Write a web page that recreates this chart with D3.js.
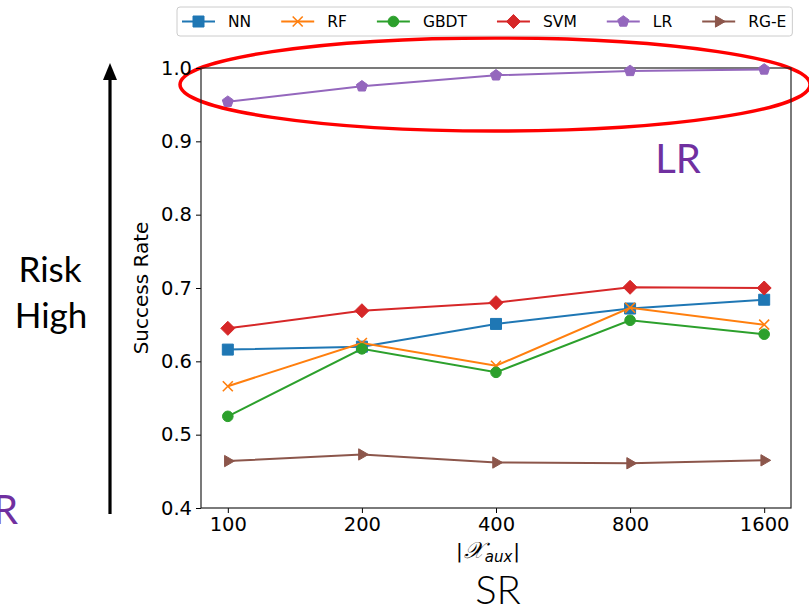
<!DOCTYPE html>
<html>
<head>
<meta charset="utf-8">
<script src="https://cdn.jsdelivr.net/npm/d3@7"></script>
<style>
  body { margin: 0; background: #fff; }
  svg { display: block; }
</style>
</head>
<body>
<div id="chart"></div>
<script>
// data
var sizes = ["100", "200", "400", "800", "1600"];
var seriesNames = ["NN", "RF", "GBDT", "SVM", "LR", "RG-E"];
var nnValues   = [0.616, 0.620, 0.651, 0.672, 0.684];
var rfValues   = [0.566, 0.625, 0.594, 0.673, 0.650];
var gbdtValues = [0.525, 0.617, 0.585, 0.656, 0.637];
var svmValues  = [0.645, 0.669, 0.680, 0.701, 0.700];
var lrValues   = [0.954, 0.975, 0.990, 0.996, 0.998];
var rgeValues  = [0.464, 0.473, 0.462, 0.461, 0.465];
var yTicks = [0.4, 0.5, 0.6, 0.7, 0.8, 0.9, 1.0];

var series = [
    { name: "NN",   values: nnValues,   color: "#1f77b4", marker: "square" },
    { name: "RF",   values: rfValues,   color: "#ff7f0e", marker: "x" },
    { name: "GBDT", values: gbdtValues, color: "#2ca02c", marker: "circle" },
    { name: "SVM",  values: svmValues,  color: "#d62728", marker: "diamond" },
    { name: "LR",   values: lrValues,   color: "#9467bd", marker: "pentagon" },
    { name: "RG-E", values: rgeValues,  color: "#8c564b", marker: "triangle" }
];

var W = 809, H = 612;
var margin = { top: 68, left: 201, width: 590, height: 440 };

var svg = d3.select("#chart").append("svg")
    .attr("width", W)
    .attr("height", H);

var x = d3.scalePoint()
    .domain(sizes)
    .range([margin.left, margin.left + margin.width])
    .padding(0.2);

var y = d3.scaleLinear()
    .domain([0.4, 1.0])
    .range([margin.top + margin.height, margin.top]);

// marker shapes, centred on 0,0
function markerPath(type) {
    var p = d3.path();
    if (type === "square") {
        var s = 5.5;
        p.rect(-s, -s, 2 * s, 2 * s);
    } else if (type === "diamond") {
        var d = 7;
        p.moveTo(0, -d); p.lineTo(d, 0); p.lineTo(0, d); p.lineTo(-d, 0); p.closePath();
    } else if (type === "circle") {
        p.arc(0, 0, 5.3, 0, 2 * Math.PI);
    } else if (type === "pentagon") {
        var r = 5.8;
        for (var i = 0; i < 5; i++) {
            var a = -Math.PI / 2 + i * 2 * Math.PI / 5;
            if (i === 0) p.moveTo(r * Math.cos(a), r * Math.sin(a));
            else p.lineTo(r * Math.cos(a), r * Math.sin(a));
        }
        p.closePath();
    } else if (type === "triangle") {
        var t = 6.5;
        p.moveTo(t, 0); p.lineTo(-t / 2, -t * 0.87); p.lineTo(-t / 2, t * 0.87); p.closePath();
    } else if (type === "x") {
        var k = 5;
        p.moveTo(-k, -k); p.lineTo(k, k); p.moveTo(-k, k); p.lineTo(k, -k);
    }
    return p.toString();
}

function drawMarker(g, type, color) {
    var m = g.append("path").attr("d", markerPath(type));
    if (type === "x") {
        m.attr("fill", "none").attr("stroke", color).attr("stroke-width", 1.6);
    } else {
        m.attr("fill", color).attr("stroke", color).attr("stroke-width", 1);
    }
    return m;
}

// red ellipse highlight
svg.append("ellipse")
    .attr("cx", 495).attr("cy", 84.5)
    .attr("rx", 315).attr("ry", 46.5)
    .attr("fill", "none")
    .attr("stroke", "#ff0000")
    .attr("stroke-width", 3.5);

// axes
var yAxis = svg.append("g")
    .attr("transform", "translate(" + margin.left + ",0)")
    .call(d3.axisLeft(y).tickValues(yTicks).tickFormat(d3.format(".1f")).tickSizeOuter(0).tickSize(5).tickPadding(4));
var xAxis = svg.append("g")
    .attr("transform", "translate(0," + (margin.top + margin.height) + ")")
    .call(d3.axisBottom(x).tickSizeOuter(0).tickSize(5).tickPadding(4));

[xAxis, yAxis].forEach(function (a) {
    a.select(".domain").remove();
    a.selectAll("line").attr("stroke", "#000").attr("stroke-width", 1);
    a.selectAll("text")
        .attr("fill", "#000")
        .style("font-family", "DejaVu Sans")
        .style("font-size", "19.5px");
});

// frame
svg.append("rect")
    .attr("x", margin.left).attr("y", margin.top)
    .attr("width", margin.width).attr("height", margin.height)
    .attr("fill", "none")
    .attr("stroke", "#222")
    .attr("stroke-width", 1.2);

// lines + markers
var line = d3.line()
    .x(function (d, i) { return x(sizes[i]); })
    .y(function (d) { return y(d); });

series.forEach(function (s) {
    svg.append("path")
        .datum(s.values)
        .attr("fill", "none")
        .attr("stroke", s.color)
        .attr("stroke-width", 2)
        .attr("d", line);
    s.values.forEach(function (v, i) {
        var g = svg.append("g")
            .attr("transform", "translate(" + x(sizes[i]) + "," + y(v) + ")");
        drawMarker(g, s.marker, s.color);
    });
});

// axis labels
svg.append("text")
    .attr("transform", "translate(148,288) rotate(-90)")
    .attr("text-anchor", "middle")
    .style("font-family", "DejaVu Sans")
    .style("font-size", "20px")
    .text("Success Rate");

var xl = svg.append("text")
    .attr("x", 488).attr("y", 558)
    .attr("text-anchor", "middle")
    .style("font-family", "DejaVu Sans")
    .style("font-size", "20px");
xl.append("tspan").text("|");
xl.append("tspan").attr("dx", 1).style("font-family", "DejaVu Serif").style("font-style", "italic").style("font-size", "23px").text("\uD835\uDCB3");
xl.append("tspan").attr("dy", 4).attr("dx", 1).style("font-style", "italic").style("font-size", "15px").text("aux");
xl.append("tspan").attr("dy", -4).attr("dx", 1).text("|");

// legend
var legend = svg.append("g");
var legendBox = legend.append("rect")
    .attr("x", 177).attr("y", 7)
    .attr("height", 29)
    .attr("rx", 3)
    .attr("fill", "#fff")
    .attr("fill-opacity", 0.8)
    .attr("stroke", "#cccccc")
    .attr("stroke-width", 1);

var lx = 182, ly = 21.5;
series.forEach(function (s) {
    var g = legend.append("g").attr("transform", "translate(" + lx + "," + ly + ")");
    g.append("line")
        .attr("x1", 0).attr("x2", 33)
        .attr("stroke", s.color).attr("stroke-width", 2);
    var mg = g.append("g").attr("transform", "translate(16.5,0)");
    drawMarker(mg, s.marker, s.color);
    var t = g.append("text")
        .attr("x", 46).attr("y", 5.5)
        .style("font-family", "DejaVu Sans")
        .style("font-size", "15.5px")
        .text(s.name);
    lx += 46 + t.node().getComputedTextLength() + 30;
});
legendBox.attr("width", lx - 30 + 6 - 177);

// annotations
var arrowX = 110;
svg.append("line")
    .attr("x1", arrowX).attr("x2", arrowX)
    .attr("y1", 514).attr("y2", 78)
    .attr("stroke", "#000").attr("stroke-width", 3.2);
svg.append("path")
    .attr("d", "M" + arrowX + ",63 L" + (arrowX + 7) + ",80 L" + (arrowX - 7) + ",80 Z")
    .attr("fill", "#000");

var annoFont = "Lato, 'Open Sans', sans-serif";
svg.append("text").attr("x", 50).attr("y", 282).attr("text-anchor", "middle")
    .style("font-family", annoFont).style("font-size", "35px").text("Risk");
svg.append("text").attr("x", 51).attr("y", 328).attr("text-anchor", "middle")
    .style("font-family", annoFont).style("font-size", "35px").text("High");
svg.append("text").attr("x", 678).attr("y", 173).attr("text-anchor", "middle")
    .attr("fill", "#7030a0")
    .style("font-family", annoFont).style("font-size", "40px").text("LR");
svg.append("text").attr("x", 18).attr("y", 524).attr("text-anchor", "end")
    .attr("fill", "#7030a0")
    .style("font-family", annoFont).style("font-size", "40px").text("LR");
svg.append("text").attr("x", 498).attr("y", 604).attr("text-anchor", "middle")
    .style("font-family", annoFont).style("font-weight", 300).style("font-size", "40px").text("SR");
</script>
</body>
</html>
